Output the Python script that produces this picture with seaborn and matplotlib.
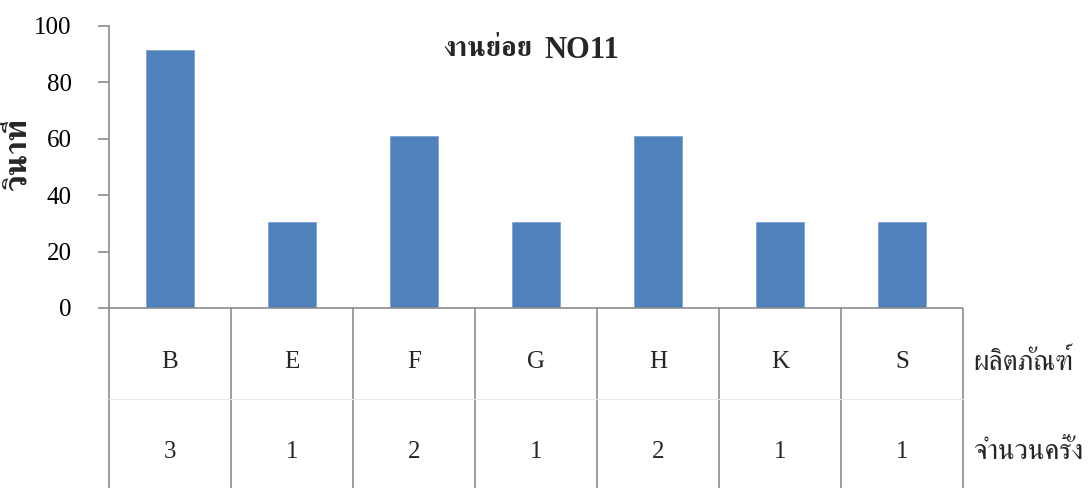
import matplotlib
matplotlib.use("Agg")
import matplotlib.pyplot as plt
import matplotlib.transforms as mtransforms
import seaborn as sns
import pandas as pd

products = ["B", "E", "F", "G", "H", "K", "S"]
counts = [3, 1, 2, 1, 2, 1, 1]
seconds = [91.5, 30.5, 61, 30.5, 61, 30.5, 30.5]

title_thai = "งานย่อย"
title_code = "NO11"
ylabel = "วินาที"
row_labels = ["ผลิตภัณฑ์", "จำนวนครั้ง"]

sns.set_theme(style="white")
latin = ["Liberation Serif", "FreeSerif", "DejaVu Serif"]
thai = ["FreeSerif", "Loma", "DejaVu Sans"]
plt.rcParams["font.family"] = latin

df = pd.DataFrame({"product": products, "seconds": seconds})

W, H = 1089, 488
fig = plt.figure(figsize=(W / 100, H / 100), dpi=100)
ax = fig.add_axes([109 / W, 180 / H, 854 / W, 282 / H])

sns.barplot(data=df, x="product", y="seconds", color="#4F81BD", width=0.4,
            edgecolor="#7FA3D3", linewidth=0.6, saturation=1, ax=ax)

ax.set_ylim(0, 100)
ax.set_xlim(-0.5, len(products) - 0.5)
ax.set_yticks([0, 20, 40, 60, 80, 100])
ax.set_xticks([])
ax.set_xlabel("")
ax.set_ylabel("")
axis_grey = "#8C8C8C"
for side in ["top", "right", "bottom"]:
    ax.spines[side].set_visible(False)
ax.spines["left"].set_color(axis_grey)
ax.spines["left"].set_linewidth(1.2)
ax.tick_params(axis="y", length=8, width=1.2, color=axis_grey, pad=19,
               labelsize=18, labelcolor="black", direction="out", left=True)

# baseline and category table under the plot
trans = mtransforms.blended_transform_factory(ax.transData, ax.transAxes)
n = len(products)
ax.plot([-0.5, n - 0.5], [0, 0], transform=trans, color=axis_grey, lw=1.2,
        clip_on=False, solid_capstyle="butt")
bottom = -182 / 282
for i in range(n + 1):
    ax.plot([i - 0.5, i - 0.5], [0, bottom], transform=trans, color=axis_grey,
            lw=1.2, clip_on=False, solid_capstyle="butt")
mid = -91 / 282
ax.plot([-0.5, n - 0.5], [mid, mid], transform=trans, color="#EBEBEB", lw=0.8,
        clip_on=False)

row1_y = -54 / 282
row2_y = -144 / 282
for i, (p, c) in enumerate(zip(products, counts)):
    ax.text(i, row1_y, p, transform=trans, ha="center", va="center", fontsize=18)
    ax.text(i, row2_y, str(c), transform=trans, ha="center", va="center", fontsize=18)

label_x = n - 0.5 + 10 / 122
ax.text(label_x, row1_y, row_labels[0], transform=trans, ha="left",
        va="center", fontsize=20, family=thai)
ax.text(label_x, row2_y, row_labels[1], transform=trans, ha="left",
        va="center", fontsize=20, family=thai)

# title: Thai word and code set side by side
fig.text(532 / W, 1 - 50 / H, title_thai, ha="right", va="center",
         fontsize=20, fontweight="bold", family=thai)
fig.text(544 / W, 1 - 51 / H, title_code, ha="left", va="center",
         fontsize=22, fontweight="bold", family=latin)

fig.text(19 / W, 1 - 154 / H, ylabel, rotation=90, ha="center", va="center",
         fontsize=23, fontweight="bold", family=thai)

fig.savefig("out.png", dpi=100)
